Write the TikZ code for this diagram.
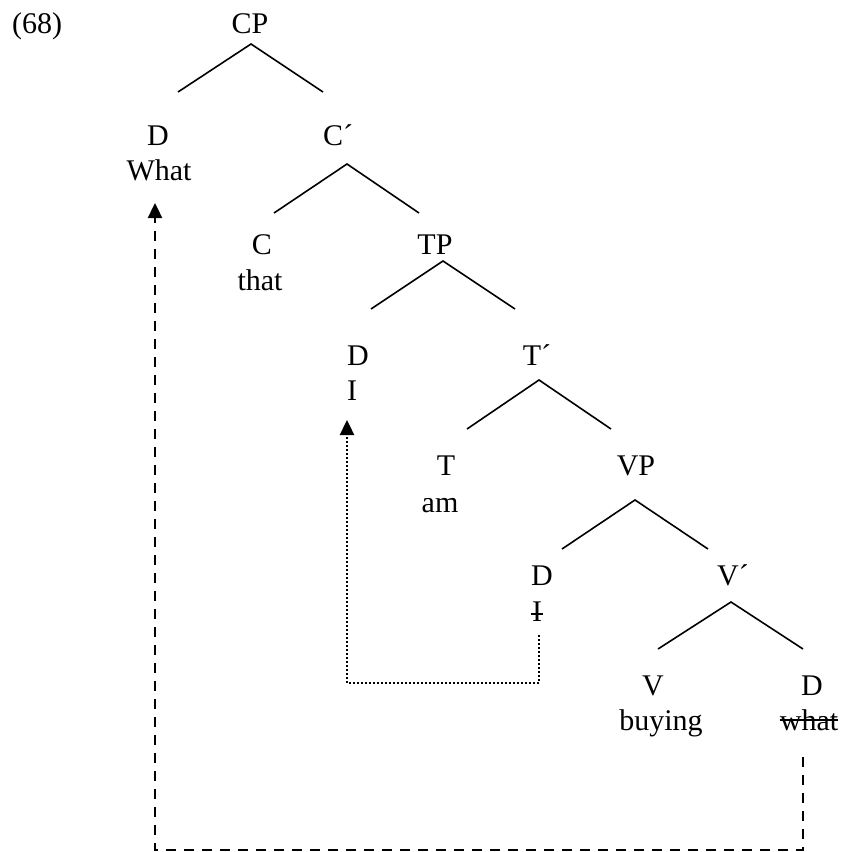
\documentclass[tikz,border=0pt]{standalone}
\usepackage{fontspec}
\setmainfont{Liberation Serif}
\usetikzlibrary{arrows.meta}
\begin{document}
\begin{tikzpicture}[x=1bp,y=-1bp,
  lab/.style={anchor=base,inner sep=0pt,font=\fontsize{30bp}{35bp}\selectfont},
  branch/.style={line width=1.6bp},
  strike/.style={line width=1.6bp},
  dotline/.style={line width=2.4bp,dash pattern=on 2bp off 2bp,-{Triangle[length=15bp,width=14bp]}},
  dashline/.style={line width=2.4bp,dash pattern=on 10bp off 8bp,-{Triangle[length=15bp,width=14bp]}}]
\useasboundingbox (0,0) rectangle (843,852);
% labels
\node[lab,anchor=base west] (num) at (12,33) {(68)};
\node[lab] (CP) at (250,33) {CP};
\node[lab] (D1) at (158,145) {D};
\node[lab] (What) at (159,180) {What};
\node[lab] (Cbar) at (338,145) {C´};
\node[lab] (C) at (262,254) {C};
\node[lab] (that) at (260,290) {that};
\node[lab] (TP) at (435,254) {TP};
\node[lab] (D2) at (358,365) {D};
\node[lab] (I) at (352,400) {I};
\node[lab] (Tbar) at (537,365) {T´};
\node[lab] (T) at (446,475) {T};
\node[lab] (am) at (440,512) {am};
\node[lab] (VP) at (636,475) {VP};
\node[lab] (D3) at (542,585) {D};
\node[lab] (tI) at (537,621) {I};
\node[lab] (Vbar) at (733,585) {V´};
\node[lab] (V) at (653,695) {V};
\node[lab] (buying) at (661,730) {buying};
\node[lab] (D4) at (812,695) {D};
\node[lab] (twhat) at (809,730) {what};
% strike-throughs
\draw[strike] ([xshift=-1bp,yshift=7bp]tI.base west) -- ([xshift=1bp,yshift=7bp]tI.base east);
\draw[strike] ([yshift=10bp]twhat.base west) -- ([yshift=10bp]twhat.base east);
% branches
\coordinate (CPa) at (251,44);  \coordinate (CPl) at (178,92);  \coordinate (CPr) at (323,92);
\coordinate (Cba) at (347,164); \coordinate (Cbl) at (274,213); \coordinate (Cbr) at (419,213);
\coordinate (TPa) at (443,261); \coordinate (TPl) at (371,309); \coordinate (TPr) at (515,309);
\coordinate (Tba) at (539,380); \coordinate (Tbl) at (467,429); \coordinate (Tbr) at (611,429);
\coordinate (VPa) at (635,500); \coordinate (VPl) at (562,549); \coordinate (VPr) at (708,549);
\coordinate (Vba) at (731,602); \coordinate (Vbl) at (658,649); \coordinate (Vbr) at (803,649);
\draw[branch] (CPl) -- (CPa) -- (CPr);
\draw[branch] (Cbl) -- (Cba) -- (Cbr);
\draw[branch] (TPl) -- (TPa) -- (TPr);
\draw[branch] (Tbl) -- (Tba) -- (Tbr);
\draw[branch] (VPl) -- (VPa) -- (VPr);
\draw[branch] (Vbl) -- (Vba) -- (Vbr);
% movement arrows
\coordinate (dotS) at (539,635);
\coordinate (dotE) at (347,420);
\draw[dotline] (dotS) -- ++(0,48) -| (dotE);
\coordinate (dashS) at (803,757);
\coordinate (dashE) at (155,203);
\draw[dashline] (dashS) -- ++(0,93) -| (dashE);
\end{tikzpicture}
\end{document}
